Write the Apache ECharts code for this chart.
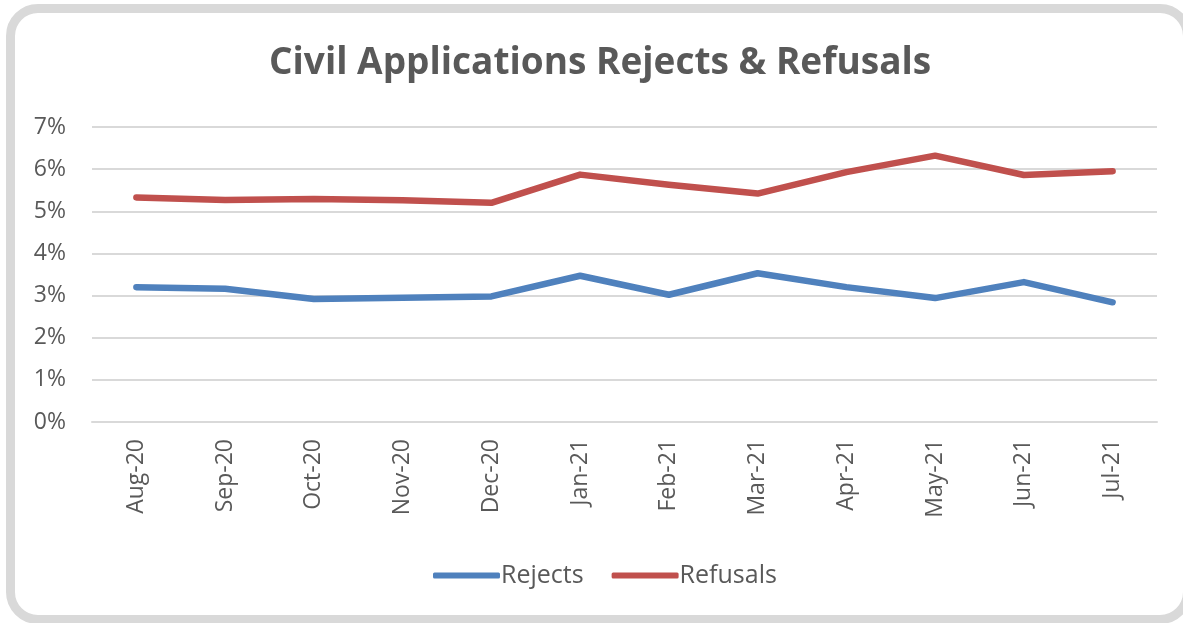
<!DOCTYPE html>
<html>
<head>
<meta charset="utf-8">
<script src="https://cdn.jsdelivr.net/npm/echarts@6/dist/echarts.min.js"></script>
<style>
  html, body { margin: 0; padding: 0; background: #fff; overflow: hidden; }
  .frame {
    position: absolute; left: 6px; top: 4px; width: 1186px; height: 620px;
    box-sizing: border-box; border: 9px solid #d9d9d9; border-radius: 32px;
  }
  .chart { position: absolute; left: 0; top: 0; width: 1183px; height: 623px; }
</style>
</head>
<body>
<div class="frame"></div>
<div class="chart"></div>
<script>
// months on the x axis
var months = ['Aug-20', 'Sep-20', 'Oct-20', 'Nov-20', 'Dec-20', 'Jan-21',
              'Feb-21', 'Mar-21', 'Apr-21', 'May-21', 'Jun-21', 'Jul-21'];
// percentages
var rejects  = [3.20, 3.16, 2.92, 2.95, 2.98, 3.47, 3.02, 3.53, 3.20, 2.94, 3.32, 2.84];
var refusals = [5.33, 5.27, 5.29, 5.26, 5.20, 5.87, 5.63, 5.42, 5.93, 6.32, 5.86, 5.95];
var yTicks = [0, 1, 2, 3, 4, 5, 6, 7];

var grey = '#595959';
var font = 'Open Sans';

var chart = echarts.init(document.querySelector('.chart'));

var option = {
    animation: false,
    title: {
        text: 'Civil Applications Rejects & Refusals',
        left: 264,
        top: 40,
        textStyle: { fontFamily: font, fontWeight: 'bold', fontSize: 37, color: grey }
    },
    legend: {
        bottom: 30,
        left: 428,
        itemWidth: 67,
        itemHeight: 6,
        itemGap: 28,
        icon: 'roundRect',
        textStyle: { fontFamily: font, fontSize: 25, color: grey, padding: [0, 0, 0, -4] },
        data: ['Rejects', 'Refusals']
    },
    grid: { left: 92, right: 26, top: 127, bottom: 201 },
    xAxis: {
        type: 'category',
        data: months,
        boundaryGap: true,
        axisLine: { lineStyle: { color: '#d9d9d9', width: 2 } },
        axisTick: { length: 7, lineStyle: { color: '#d9d9d9', width: 2 } },
        axisLabel: { rotate: 90, margin: 17, fontFamily: font, fontSize: 23, color: grey, interval: 0 }
    },
    yAxis: {
        type: 'value',
        min: yTicks[0],
        max: yTicks[yTicks.length - 1],
        interval: 1,
        axisLine: { show: false },
        axisTick: { show: false },
        axisLabel: { margin: 26, fontFamily: font, fontSize: 23, color: grey, formatter: '{value}%' },
        splitLine: { lineStyle: { color: '#d9d9d9', width: 2 } }
    },
    series: [
        {
            name: 'Rejects',
            type: 'line',
            data: rejects,
            symbol: 'none',
            itemStyle: { color: '#4f81bd' },
            lineStyle: { width: 6.5, color: '#4f81bd', cap: 'round', join: 'round' }
        },
        {
            name: 'Refusals',
            type: 'line',
            data: refusals,
            symbol: 'none',
            itemStyle: { color: '#c0504d' },
            lineStyle: { width: 6.5, color: '#c0504d', cap: 'round', join: 'round' }
        }
    ]
};

chart.setOption(option);
</script>
</body>
</html>
